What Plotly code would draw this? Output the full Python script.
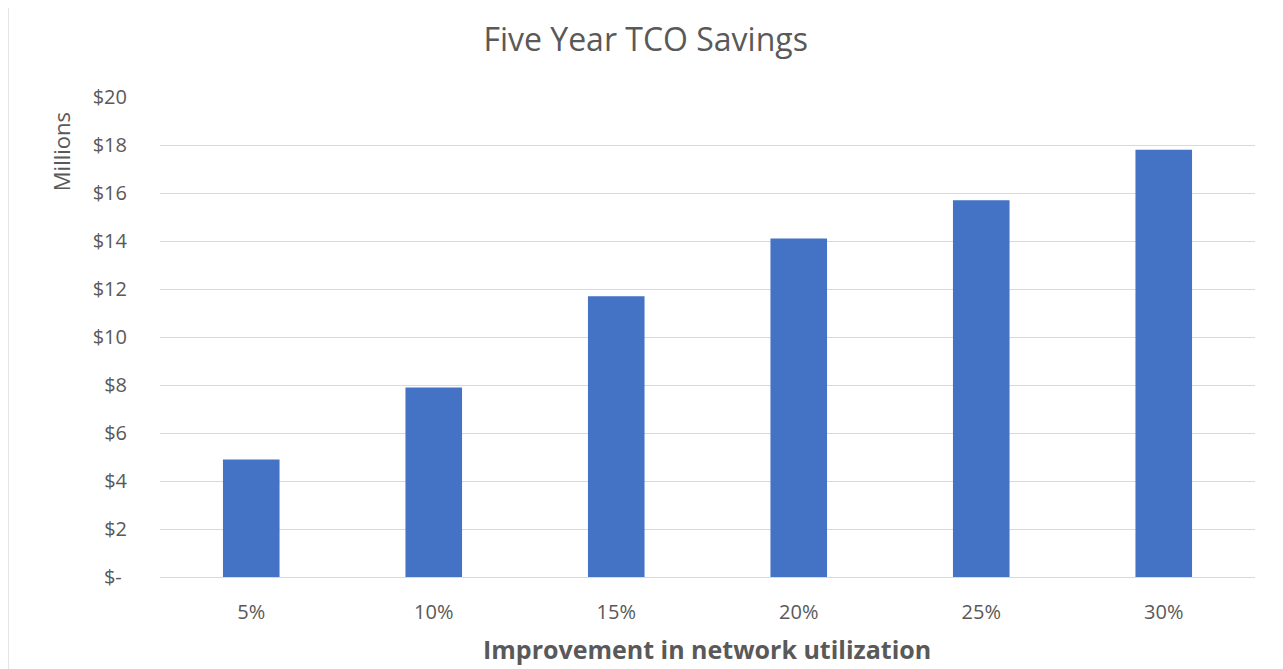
import plotly.graph_objects as go

categories = ["5%", "10%", "15%", "20%", "25%", "30%"]
savings_millions = [4.9, 7.9, 11.7, 14.1, 15.7, 17.8]
tick_values = [0, 2, 4, 6, 8, 10, 12, 14, 16, 18, 20]
tick_labels = ["$- ", "$2", "$4", "$6", "$8", "$10", "$12", "$14", "$16", "$18", "$20"]

FONT = "'Open Sans', Lato, sans-serif"
GRAY = "#595959"

fig = go.Figure(
    go.Bar(
        x=categories,
        y=savings_millions,
        marker=dict(color="#4472C4", line=dict(width=0)),
    )
)

fig.update_layout(
    width=1283,
    height=669,
    paper_bgcolor="white",
    plot_bgcolor="white",
    margin=dict(l=152, r=36, t=89, b=100),
    bargap=0.69,
    showlegend=False,
    font=dict(family=FONT, color=GRAY),
    title=dict(
        text="Five Year TCO Savings",
        x=0.497,
        xanchor="center",
        y=0.9525,
        yanchor="middle",
        font=dict(size=32, color=GRAY, family=FONT),
    ),
    xaxis=dict(
        showgrid=False,
        showline=True,
        linecolor="#D9D9D9",
        linewidth=1,
        ticks="",
        tickfont=dict(size=20, color=GRAY),
        ticklabelstandoff=17,
    ),
    yaxis=dict(
        range=[0, 20],
        tickvals=tick_values,
        ticktext=tick_labels,
        showgrid=True,
        gridcolor="#D9D9D9",
        gridwidth=1,
        zeroline=False,
        showline=False,
        ticks="",
        tickfont=dict(size=20, color=GRAY),
        ticklabelstandoff=32,
    ),
    annotations=[
        dict(
            text="Millions",
            xref="paper",
            yref="paper",
            x=-0.0904,
            y=0.885,
            textangle=-90,
            showarrow=False,
            xanchor="center",
            yanchor="middle",
            font=dict(size=22, color=GRAY, family=FONT),
        ),
        dict(
            text="<b>Improvement in network utilization</b>",
            xref="paper",
            yref="paper",
            x=0.4995,
            y=-0.15,
            showarrow=False,
            xanchor="center",
            yanchor="middle",
            font=dict(size=25, color=GRAY, family=FONT),
        ),
    ],
    shapes=[
        dict(
            type="line",
            xref="paper",
            yref="paper",
            x0=-0.139,
            x1=-0.139,
            y0=-0.2,
            y1=1.2,
            line=dict(color="#D0D0D0", width=1.5),
        )
    ],
)

fig.write_html("out.html")
